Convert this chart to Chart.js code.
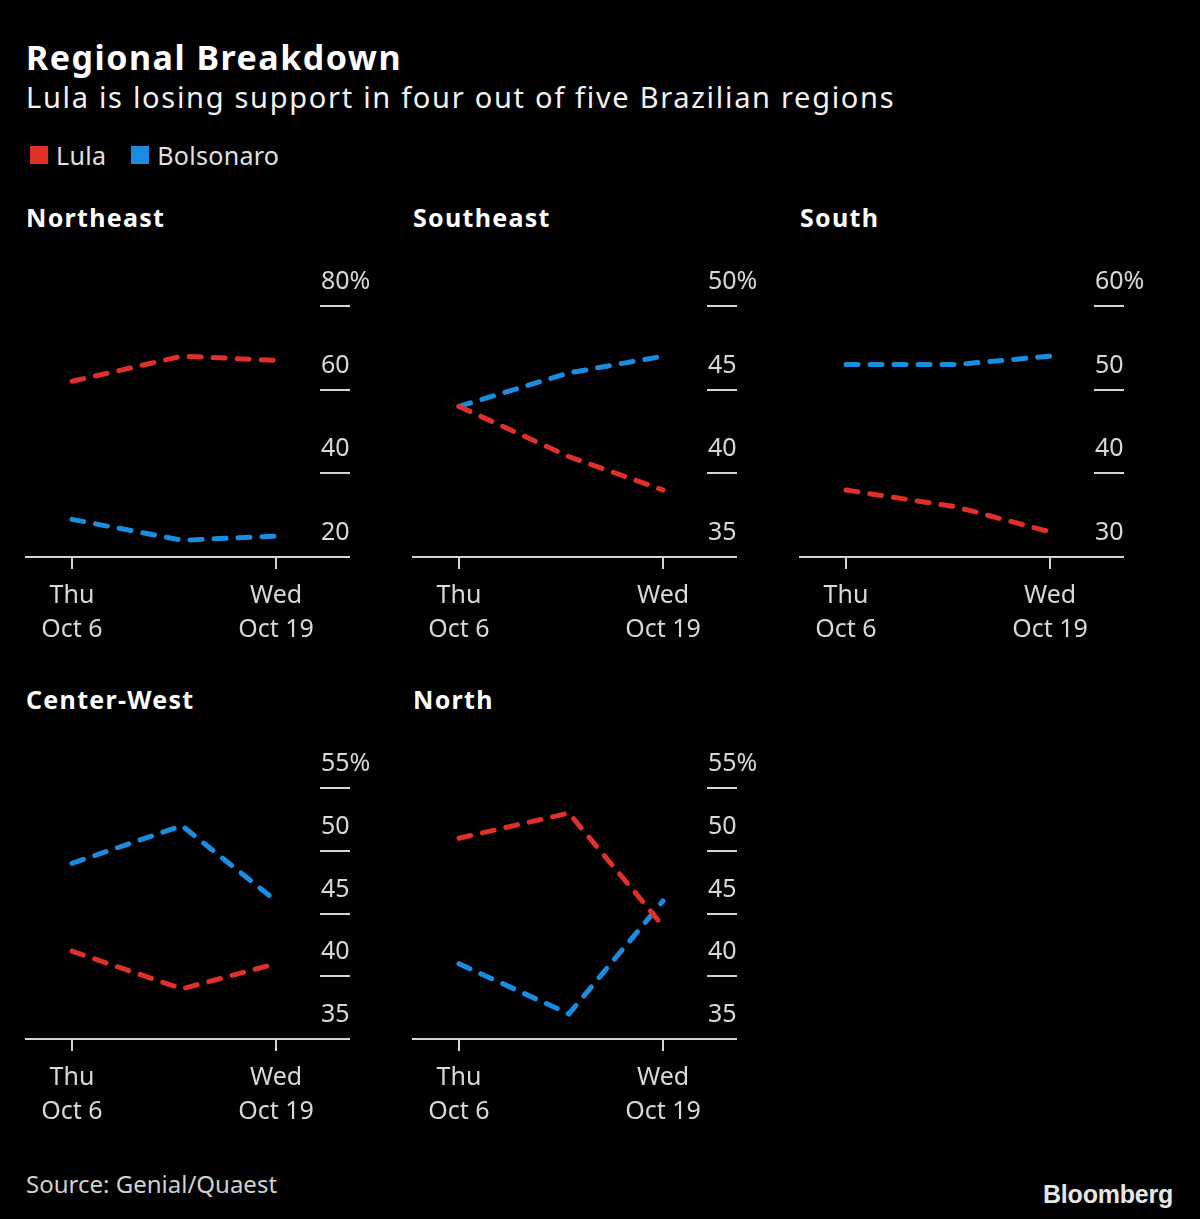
<!DOCTYPE html>
<html>
<head>
<meta charset="utf-8">
<script src="https://cdn.jsdelivr.net/npm/chart.js@4.4.1/dist/chart.umd.min.js"></script>
<style>
  body { margin: 0; background: #000; width: 1200px; height: 1219px; overflow: hidden; font-family: "Noto Sans", sans-serif; color: #fff; }
  .title { position: absolute; left: 26px; top: 34px; font-size: 34px; font-weight: 700; letter-spacing: 1.5px; }
  .subtitle { position: absolute; left: 26px; top: 77px; font-size: 29px; color: #f2f2f2; letter-spacing: 1.7px; }
  .legend { position: absolute; left: 30px; top: 138px; font-size: 25px; color: #e0e0e0; display: flex; align-items: center; letter-spacing: 0.3px; }
  .legend span.sw { display: inline-block; width: 18px; height: 18px; margin-right: 8px; }
  .legend span.lab { margin-right: 25px; }
  .panel-title { position: absolute; font-size: 25px; font-weight: 700; letter-spacing: 1.3px; }
  .panel { position: absolute; width: 370px; height: 400px; }
  .source { position: absolute; left: 26px; top: 1167px; font-size: 24px; color: #d0d0d0; }
  .logo { position: absolute; left: 1043px; top: 1180px; font-size: 25px; font-weight: 700; color: #e6e6e6; font-family: "Liberation Sans", Arial, sans-serif; letter-spacing: -0.2px; }
</style>
</head>
<body>
<div class="title">Regional Breakdown</div>
<div class="subtitle">Lula is losing support in four out of five Brazilian regions</div>
<div class="legend">
  <span class="sw" style="background:#e0302a"></span><span class="lab">Lula</span>
  <span class="sw" style="background:#1a8de0"></span><span class="lab">Bolsonaro</span>
</div>
<div id="panels"></div>
<div class="source">Source: Genial/Quaest</div>
<div class="logo">Bloomberg</div>

<script>
// poll dates, day of October 2022
const pollDays = [6, 13, 19];
const tickDays = [6, 19];
const tickLabels = [['Thu', 'Oct 6'], ['Wed', 'Oct 19']];

const regions = ['Northeast', 'Southeast', 'South', 'Center-West', 'North'];

const lula = [
  [62, 68, 67],
  [44, 41, 39],
  [38, 36, 33],
  [42, 39, 41],
  [51, 53, 44]
];
const bolsonaro = [
  [29, 24, 25],
  [44, 46, 47],
  [53, 53, 54],
  [49, 52, 46],
  [41, 37, 46]
];

// y-axis ticks per region
const yTicks = [
  [20, 40, 60, 80],
  [35, 40, 45, 50],
  [30, 40, 50, 60],
  [35, 40, 45, 50, 55],
  [35, 40, 45, 50, 55]
];

const RED = '#e0302a';
const BLUE = '#1a8de0';
const AXIS = '#d4d4d4';
const FONT = '"Noto Sans", sans-serif';

// top-left of each panel canvas
const slots = [[20, 260], [407, 260], [794, 260], [20, 742], [407, 742]];

const host = document.getElementById('panels');

regions.forEach((name, i) => {
  const [px, py] = slots[i];

  const t = document.createElement('div');
  t.className = 'panel-title';
  t.textContent = name;
  t.style.left = (px + 6) + 'px';
  t.style.top = (py - 60) + 'px';
  host.appendChild(t);

  const wrap = document.createElement('div');
  wrap.className = 'panel';
  wrap.style.left = px + 'px';
  wrap.style.top = py + 'px';
  const cv = document.createElement('canvas');
  cv.width = 370; cv.height = 400;
  wrap.appendChild(cv);
  host.appendChild(wrap);

  const ticks = yTicks[i];
  const last = ticks.length - 1;

  const line = (label, vals, color) => ({
    label: label,
    data: pollDays.map((d, k) => ({ x: d, y: vals[k] })),
    borderColor: color,
    borderWidth: 5,
    borderDash: [12, 12],
    borderCapStyle: 'round',
    pointRadius: 0,
    tension: 0,
    fill: false
  });

  new Chart(cv, {
    type: 'line',
    data: {
      datasets: [line('Lula', lula[i], RED), line('Bolsonaro', bolsonaro[i], BLUE)]
    },
    options: {
      responsive: false,
      animation: false,
      layout: { padding: { left: 6, right: 0, top: 46, bottom: 0 } },
      plugins: { legend: { display: false }, tooltip: { enabled: false } },
      scales: {
        x: {
          type: 'linear',
          min: 3.07,
          max: 21.8,
          afterBuildTicks: s => { s.ticks = tickDays.map(v => ({ value: v })); },
          afterFit: s => { s.height = 103; },
          grid: { drawOnChartArea: false, drawTicks: true, tickLength: 12, color: AXIS, lineWidth: 2 },
          border: { display: true, color: AXIS, width: 2 },
          ticks: {
            autoSkip: false,
            maxRotation: 0,
            padding: 10,
            color: '#d8d8d8',
            font: { family: FONT, size: 25, lineHeight: 1.36 },
            callback: v => tickLabels[tickDays.indexOf(v)]
          }
        },
        y: {
          position: 'right',
          min: ticks[0],
          max: ticks[last],
          afterBuildTicks: s => { s.ticks = ticks.map(v => ({ value: v })); },
          afterFit: s => { s.width = 70; },
          grid: { drawOnChartArea: false, drawTicks: true, tickLength: 30, color: AXIS, lineWidth: 2 },
          border: { display: false },
          ticks: {
            padding: -29,
            crossAlign: 'near',
            labelOffset: -24,
            color: '#d8d8d8',
            font: { family: FONT, size: 25 },
            callback: (v, idx) => idx === last ? v + '%' : String(v)
          }
        }
      }
    }
  });
});
</script>
</body>
</html>
